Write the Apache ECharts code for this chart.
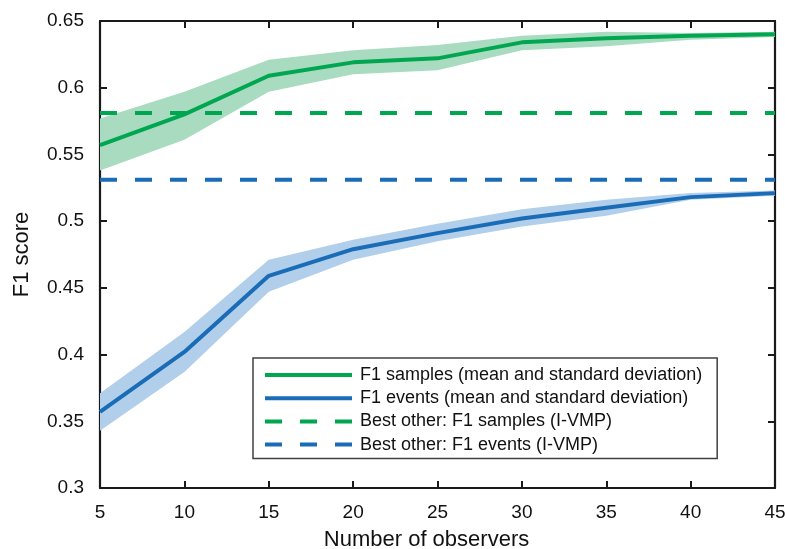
<!DOCTYPE html>
<html>
<head>
<meta charset="utf-8">
<script src="https://cdn.jsdelivr.net/npm/echarts@6/dist/echarts.min.js"></script>
<style>
  html, body { margin: 0; padding: 0; background: #fff; }
  #chart { width: 785px; height: 549px; }
</style>
</head>
<body>
<div id="chart"></div>
<script>
// Number of observers
const observers = [5, 10, 15, 20, 25, 30, 35, 40, 45];

// F1 samples: mean and mean ± standard deviation
const samplesMean  = [0.557, 0.580, 0.609, 0.619, 0.622, 0.634, 0.637, 0.639, 0.640];
const samplesLower = [0.538, 0.561, 0.597, 0.610, 0.613, 0.628, 0.631, 0.636, 0.638];
const samplesUpper = [0.577, 0.597, 0.621, 0.628, 0.632, 0.639, 0.642, 0.641, 0.642];

// F1 events: mean and mean ± standard deviation
const eventsMean  = [0.357, 0.402, 0.459, 0.479, 0.491, 0.502, 0.510, 0.518, 0.521];
const eventsLower = [0.343, 0.387, 0.447, 0.471, 0.485, 0.496, 0.504, 0.516, 0.519];
const eventsUpper = [0.371, 0.417, 0.471, 0.486, 0.498, 0.509, 0.516, 0.521, 0.523];

// Best competing method (I-VMP)
const bestOtherSamples = 0.581;
const bestOtherEvents = 0.531;

const yTicks = { min: 0.3, max: 0.65, step: 0.05 };

const legendNames = [
  'F1 samples (mean and standard deviation)',
  'F1 events (mean and standard deviation)',
  'Best other: F1 samples (I-VMP)',
  'Best other: F1 events (I-VMP)'
];

const GREEN = '#00a650';
const BLUE = '#1a6cb7';
const GREEN_BAND = '#a9dbc0';
const BLUE_BAND = '#b1cfea';
const AXIS = '#1a1a1a';
const FONT = 'Liberation Sans, Arial, Helvetica, sans-serif';

const pairs = (ys) => observers.map((x, i) => [x, ys[i]]);
const flat = (v) => [[observers[0], v], [observers[observers.length - 1], v]];

// Shaded ±1 std band: one polygon through the upper edge and back along the lower edge
function band(lo, hi, color) {
  return {
    type: 'custom',
    silent: true,
    z: 1,
    data: observers.map((x, i) => [x, lo[i], hi[i]]),
    encode: { x: 0, y: [1, 2] },
    renderItem: (params, api) => {
      if (params.dataIndex !== 0) return null;
      const top = observers.map((x, i) => api.coord([x, hi[i]]));
      const bottom = observers.map((x, i) => api.coord([x, lo[i]])).reverse();
      return {
        type: 'polygon',
        shape: { points: top.concat(bottom) },
        style: { fill: color }
      };
    }
  };
}

const tickCommon = { inside: true, length: 7, lineStyle: { color: AXIS, width: 2 } };
const lineCommon = { show: true, onZero: false, lineStyle: { color: AXIS, width: 2.2 } };

const chart = echarts.init(document.getElementById('chart'), null, { renderer: 'canvas' });
chart.setOption({
  animation: false,
  backgroundColor: '#fff',
  grid: { left: 100, right: 10, top: 21, bottom: 61, containLabel: false, outerBoundsMode: 'none' },
  legend: {
    data: legendNames,
    orient: 'vertical',
    left: 253, top: 358,
    padding: [8, 15, 5, 10],
    itemWidth: 87, itemHeight: 20, itemGap: 5.2,
    backgroundColor: '#fff',
    borderColor: '#404040', borderWidth: 1.5,
    textStyle: { fontFamily: FONT, fontSize: 18, color: '#111', padding: [0, 0, 0, 3] },
    itemStyle: { opacity: 0 },
    lineStyle: { width: 4 }
  },
  xAxis: [
    {
      type: 'value', min: 5, max: 45, interval: 5,
      name: 'Number of observers', nameLocation: 'middle', nameGap: 41,
      nameTextStyle: { fontFamily: FONT, fontSize: 22, color: '#111', padding: [0, 22, 0, 0] },
      axisLine: lineCommon, axisTick: tickCommon,
      axisLabel: { margin: 15, fontFamily: FONT, fontSize: 19, color: '#111' },
      splitLine: { show: false }
    },
    {
      type: 'value', position: 'top', min: 5, max: 45, interval: 5,
      axisLine: lineCommon, axisTick: tickCommon,
      axisLabel: { show: false }, splitLine: { show: false }
    }
  ],
  yAxis: [
    {
      type: 'value', min: yTicks.min, max: yTicks.max, interval: yTicks.step,
      name: 'F1 score', nameLocation: 'middle', nameGap: 67,
      nameTextStyle: { fontFamily: FONT, fontSize: 22, color: '#111' },
      axisLine: lineCommon, axisTick: tickCommon,
      axisLabel: {
        margin: 16, fontFamily: FONT, fontSize: 19, color: '#111',
        formatter: (v) => String(+v.toFixed(2))
      },
      splitLine: { show: false }
    },
    {
      type: 'value', position: 'right', min: yTicks.min, max: yTicks.max, interval: yTicks.step,
      axisLine: lineCommon, axisTick: tickCommon,
      axisLabel: { show: false }, splitLine: { show: false }
    }
  ],
  series: [
    band(samplesLower, samplesUpper, GREEN_BAND),
    band(eventsLower, eventsUpper, BLUE_BAND),
    {
      name: legendNames[0], type: 'line', data: pairs(samplesMean), symbol: 'none',
      lineStyle: { color: GREEN, width: 4 }, itemStyle: { color: GREEN }, z: 3
    },
    {
      name: legendNames[1], type: 'line', data: pairs(eventsMean), symbol: 'none',
      lineStyle: { color: BLUE, width: 4 }, itemStyle: { color: BLUE }, z: 3
    },
    {
      name: legendNames[2], type: 'line', data: flat(bestOtherSamples), symbol: 'none',
      lineStyle: { color: GREEN, width: 4, type: [17, 18] }, itemStyle: { color: GREEN }, z: 4
    },
    {
      name: legendNames[3], type: 'line', data: flat(bestOtherEvents), symbol: 'none',
      lineStyle: { color: BLUE, width: 4, type: [17, 18] }, itemStyle: { color: BLUE }, z: 4
    }
  ]
});
</script>
</body>
</html>
